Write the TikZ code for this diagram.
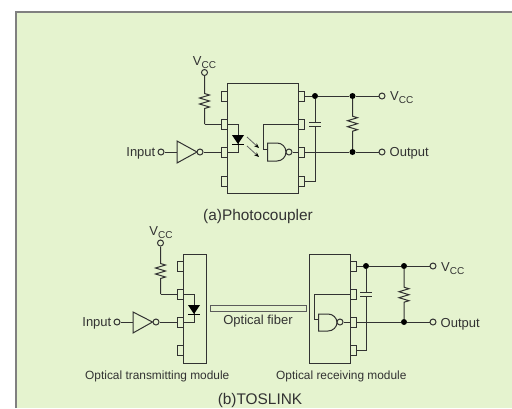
\documentclass[tikz,border=0pt]{standalone}
\usepackage{fontspec}
\setmainfont{Liberation Sans}
\usetikzlibrary{decorations.pathmorphing,arrows.meta}
\definecolor{panel}{RGB}{229,243,207}
\definecolor{ink}{RGB}{50,50,50}
\newcommand{\Vcc}{V\raisebox{-0.25em}{\fontsize{10}{12}\selectfont CC}}
\tikzset{
  x=1pt,y=-1pt,
  wire/.style={draw=ink,line width=1pt},
  term/.style={circle,draw=ink,line width=1pt,fill=panel,minimum size=6pt,inner sep=0pt},
  dotn/.style={circle,fill=black,minimum size=6pt,inner sep=0pt},
  pinbox/.style={draw=ink,line width=1pt,fill=panel,minimum width=6pt,minimum height=10pt,inner sep=0pt},
  modbox/.style={draw=ink,line width=1pt,inner sep=0pt},
  lab/.style={font=\fontsize{13}{15}\selectfont,text=ink,inner sep=0pt},
  smalllab/.style={font=\fontsize{11.9}{14}\selectfont,text=ink,inner sep=0pt},
  caplab/.style={font=\fontsize{15.4}{18}\selectfont,text=ink,inner sep=0pt},
  res/.style n args={2}{wire,decorate,decoration={zigzag,segment length=6pt,amplitude=5pt,pre=lineto,pre length=#1,post=lineto,post length=#2}},
  led/.style={fill=black},
  plate/.style={draw=ink,line width=1pt},
  ray/.style={draw=ink!75,line width=0.8pt,-{Stealth[length=5pt,width=4pt,black]}},
}
\begin{document}
\begin{tikzpicture}
\useasboundingbox (0,0) rectangle (512,408);
\fill[white] (0,0) rectangle (512,408);
\fill[panel] (16,12) rectangle (512,408);
\draw[gray,line width=1.5pt] (16,408) -- (16,12) -- (512,12);

% ---- (a) Photocoupler
\node[modbox,minimum width=71pt,minimum height=110pt] (pcbox) at (262.5,138) {};
\foreach \n/\y in {1/96,2/124,3/152,4/181}{
  \node[pinbox] (pl\n) at (224,\y) {};
  \node[pinbox] (pr\n) at (301,\y) {};
}
\node[term] (avcc) at (204.5,72.5) {};
\node[lab,anchor=base] (avcct) at (204.5,65) {\Vcc};
\coordinate (ac1) at (204.5,124);
\draw[res={17.5}{12.9}] (avcc.south) -- (ac1);
\draw[wire] (ac1) -- (pl2.west);
\node[term] (ain) at (161,152) {};
\node[lab,anchor=base east] (aint) at (155.5,156) {Input};
\draw[wire,fill=panel] (177,141) -- (197,152) -- (177,163) -- cycle;
\node[term] (ainvb) at (200,152) {};
\draw[wire] (ain.east) -- (177,152);
\draw[wire] (ainvb.east) -- (pl3.west);
% LED
\coordinate (al1) at (238,124); \coordinate (al2) at (238,152);
\draw[wire] (pl2.east) -- (al1) -- (al2) -- (pl3.east);
\fill[led] (232,135) -- (244,135) -- (238,144) -- cycle;
\draw[wire,line width=1.4pt,draw=black] (232,144.5) -- (244,144.5);
\draw[ray] (247,137) -- (259,148);
\draw[ray] (247,146) -- (259,157);
% NAND
\draw[wire,fill=panel] (277,143) -- (267.5,143) -- (267.5,161) -- (277,161) .. controls (282,161) and (286,157) .. (286,152) .. controls (286,147) and (282,143) .. (277,143) -- cycle;
\node[term] (anb) at (289,152) {};
\draw[wire] (anb.east) -- (pr3.west);
\draw[wire] (267.5,149) -- (263.5,149) -- (263.5,124) -- (pr2.west);
% right side
\node[dotn] (ad1) at (315,96) {};
\node[dotn] (ad2) at (352.5,96) {};
\node[dotn] (ad3) at (352.5,152) {};
\node[term] (avo) at (382,96) {};
\node[term] (aout) at (382,152) {};
\node[lab,anchor=base west] (avot) at (390,100.5) {\Vcc};
\node[lab,anchor=base west] (aoutt) at (389.5,156) {Output};
\draw[wire] (pr1.east) -- (ad1) -- (ad2) -- (avo);
\draw[wire] (pr3.east) -- (ad3) -- (aout);
\draw[res={17}{15.9}] (ad2) -- (ad3);
\coordinate (ac2) at (315,181);
\draw[wire] (ad1) -- (315,122);
\draw[wire] (315,126) -- (ac2) -- (pr4.east);
\draw[plate] (309,122) -- (321,122);
\draw[plate] (309,126) -- (321,126);
\node[caplab,anchor=base] (acap) at (258,220) {(a)Photocoupler};

% ---- (b) TOSLINK
\node[modbox,minimum width=23pt,minimum height=109pt] (txbox) at (194.5,308.5) {};
\node[modbox,minimum width=41pt,minimum height=109pt] (rxbox) at (329.5,308.5) {};
\foreach \n/\y in {1/266,2/294,3/322,4/350.5}{
  \node[pinbox] (tl\n) at (180,\y) {};
  \node[pinbox] (rr\n) at (353,\y) {};
}
\node[term] (bvcc) at (160.5,243) {};
\node[lab,anchor=base] (bvcct) at (161,235.5) {\Vcc};
\coordinate (bc1) at (160.5,294);
\draw[res={17}{12.9}] (bvcc.south) -- (bc1);
\draw[wire] (bc1) -- (tl2.west);
\node[term] (bin) at (117,322) {};
\node[lab,anchor=base east] (bint) at (111.5,326.5) {Input};
\draw[wire,fill=panel] (133,312) -- (152.5,322) -- (133,333) -- cycle;
\node[term] (binvb) at (156,322) {};
\draw[wire] (bin.east) -- (133,322);
\draw[wire] (binvb.east) -- (tl3.west);
\coordinate (bl1) at (194,294); \coordinate (bl2) at (194,322);
\draw[wire] (tl2.east) -- (bl1) -- (bl2) -- (tl3.east);
\fill[led] (188,305) -- (200,305) -- (194,314) -- cycle;
\draw[wire,line width=1.4pt,draw=black] (188,314.5) -- (200,314.5);
% fiber
\node[draw=ink!80,line width=1pt,minimum width=96pt,minimum height=6pt,inner sep=0pt] (fiber) at (258,308) {};
\node[lab,anchor=base] (fibert) at (258,324) {Optical fiber};
% receiver NAND
\draw[wire,fill=panel] (328,314) -- (318.5,314) -- (318.5,331) -- (328,331) .. controls (333,331) and (337,327) .. (337,322.5) .. controls (337,318) and (333,314) .. (328,314) -- cycle;
\node[term] (bnb) at (340,322) {};
\draw[wire] (bnb.east) -- (rr3.west);
\draw[wire] (318.5,319.5) -- (314,319.5) -- (314,294) -- (rr2.west);
\node[dotn] (bd1) at (366,266) {};
\node[dotn] (bd2) at (404,266) {};
\node[dotn] (bd3) at (404,322) {};
\node[term] (bvo) at (433,266) {};
\node[term] (bout) at (433,322) {};
\node[lab,anchor=base west] (bvot) at (441,271.5) {\Vcc};
\node[lab,anchor=base west] (boutt) at (440.5,327) {Output};
\draw[wire] (rr1.east) -- (bd1) -- (bd2) -- (bvo);
\draw[wire] (rr3.east) -- (bd3) -- (bout);
\draw[res={18}{14.9}] (bd2) -- (bd3);
\coordinate (bc2) at (366,350.5);
\draw[wire] (bd1) -- (366,292);
\draw[wire] (366,296.5) -- (bc2) -- (rr4.east);
\draw[plate] (360,292) -- (372,292);
\draw[plate] (360,296.5) -- (372,296.5);
\node[smalllab,anchor=base west] (txt) at (85,379) {Optical transmitting module};
\node[smalllab,anchor=base west] (rxt) at (276,379) {Optical receiving module};
\node[caplab,anchor=base] (bcap) at (260,404) {(b)TOSLINK};
\end{tikzpicture}
\end{document}
